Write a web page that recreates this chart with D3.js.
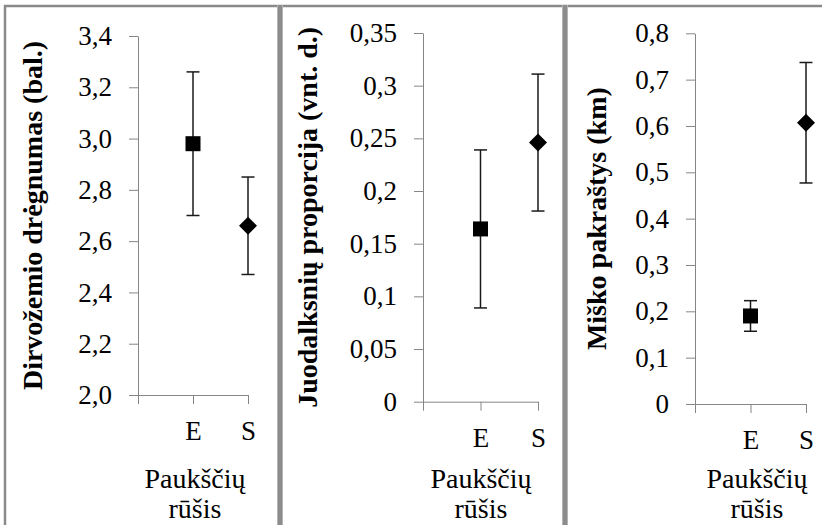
<!DOCTYPE html>
<html>
<head>
<meta charset="utf-8">
<script src="https://cdn.jsdelivr.net/npm/d3@7"></script>
</head>
<body style="margin:0">
<svg id="chart" width="822" height="525"></svg>
<script>
// Categories along each x axis (first slot left blank, as in the original workbook)
const categories = ["", "E", "S"];
const species = ["E", "S"];
const markerShapes = ["square", "diamond"];

// Soil moisture (points)
const soilMean = [2.98, 2.66];
const soilErr = [0.28, 0.19];
const soilTicks = [2.0, 2.2, 2.4, 2.6, 2.8, 3.0, 3.2, 3.4];
const soilTickLabels = ["2,0", "2,2", "2,4", "2,6", "2,8", "3,0", "3,2", "3,4"];

// Black alder proportion (units)
const alderMean = [0.164, 0.246];
const alderErr = [0.075, 0.065];
const alderTicks = [0, 0.05, 0.1, 0.15, 0.2, 0.25, 0.3, 0.35];
const alderTickLabels = ["0", "0,05", "0,1", "0,15", "0,2", "0,25", "0,3", "0,35"];

// Forest edge distance (km)
const edgeMean = [0.19, 0.607];
const edgeErr = [0.033, 0.13];
const edgeTicks = [0, 0.1, 0.2, 0.3, 0.4, 0.5, 0.6, 0.7, 0.8];
const edgeTickLabels = ["0", "0,1", "0,2", "0,3", "0,4", "0,5", "0,6", "0,7", "0,8"];

const yTitles = ["Dirvožemio drėgnumas (bal.)", "Juodalksnių proporcija (vnt. d.)", "Miško pakraštys (km)"];
const xTitleLines = ["Paukščių", "rūšis"];

const SERIF = "Liberation Serif";
const TICK_FONT = 27;
const TITLE_FONT = 28;
const AXIS_COLOR = "#868686";

const svg = d3.select("#chart").style("display", "block").style("font-family", `"${SERIF}"`);

// Panel layout
const panels = [
  { mean: soilMean, err: soilErr, ticks: soilTicks, labels: soilTickLabels, title: yTitles[0],
    ax: 138, xEnd: 248, yTop: 36, yBot: 395, titleX: 42, xTitleX: 195 },
  { mean: alderMean, err: alderErr, ticks: alderTicks, labels: alderTickLabels, title: yTitles[1],
    ax: 423, xEnd: 538, yTop: 33, yBot: 401.7, titleX: 317, xTitleX: 481 },
  { mean: edgeMean, err: edgeErr, ticks: edgeTicks, labels: edgeTickLabels, title: yTitles[2],
    ax: 695, xEnd: 806, yTop: 33.3, yBot: 404, titleX: 606, xTitleX: 757 }
];

// Outer frame and panel dividers
svg.append("rect").attr("x", 0).attr("y", 0).attr("width", 822).attr("height", 525).attr("fill", "#fff");
svg.append("line").attr("x1", 4).attr("x2", 822).attr("y1", 6).attr("y2", 6)
  .attr("stroke", "#8a8a8a").attr("stroke-width", 2.5);
svg.append("line").attr("x1", 5).attr("x2", 5).attr("y1", 5).attr("y2", 525)
  .attr("stroke", "#8a8a8a").attr("stroke-width", 2.5);
[280, 565].forEach(x => {
  svg.append("rect").attr("x", x - 3).attr("y", 5).attr("width", 6).attr("height", 520).attr("fill", "#b4b4b4");
  svg.append("rect").attr("x", x - 2).attr("y", 5).attr("width", 4).attr("height", 520).attr("fill", "#8c8c8c");
});

function styleText(sel, size, weight) {
  return sel.attr("font-family", SERIF)
    .style("font-family", `"${SERIF}"`)
    .style("font-size", `${size}px`)
    .attr("font-weight", weight || "normal")
    .attr("fill", "#000");
}

panels.forEach(p => {
  const domain = [p.ticks[0], p.ticks[p.ticks.length - 1]];
  const y = d3.scaleLinear().domain(domain).range([p.yBot, p.yTop]);
  const x = d3.scalePoint().domain(categories).range([p.ax, p.xEnd]).padding(0);
  const g = svg.append("g");

  // Y axis
  const yAxis = d3.axisLeft(y).tickValues(p.ticks)
    .tickFormat((d, i) => p.labels[i]).tickSize(9).tickPadding(17).tickSizeOuter(0);
  const gy = g.append("g").attr("transform", `translate(${p.ax},0)`).call(yAxis)
    .attr("font-family", SERIF).attr("font-size", TICK_FONT);
  gy.select(".domain").attr("stroke", AXIS_COLOR);
  gy.selectAll(".tick line").attr("stroke", AXIS_COLOR);
  styleText(gy.selectAll(".tick text"), TICK_FONT);

  // X axis
  const xAxis = d3.axisBottom(x).tickSize(9).tickPadding(17).tickSizeOuter(0);
  const gx = g.append("g").attr("transform", `translate(0,${p.yBot})`).call(xAxis)
    .attr("font-family", SERIF).attr("font-size", TICK_FONT);
  gx.select(".domain").attr("stroke", AXIS_COLOR);
  gx.selectAll(".tick line").attr("stroke", AXIS_COLOR);
  styleText(gx.selectAll(".tick text"), TICK_FONT);

  // Y axis title
  styleText(g.append("text")
    .attr("transform", `translate(${p.titleX},${(p.yTop + p.yBot) / 2}) rotate(-90)`)
    .attr("text-anchor", "middle"), TITLE_FONT, "bold")
    .text(p.title);

  // X axis title (two lines)
  styleText(g.append("text").attr("x", p.xTitleX).attr("y", 488).attr("text-anchor", "middle"), TITLE_FONT)
    .text(xTitleLines[0]);
  styleText(g.append("text").attr("x", p.xTitleX).attr("y", 518).attr("text-anchor", "middle"), TITLE_FONT)
    .text(xTitleLines[1]);

  // Error bars and markers
  species.forEach((s, i) => {
    const cx = x(s);
    const m = p.mean[i], e = p.err[i];
    const eb = g.append("g").attr("stroke", "#1a1a1a").attr("stroke-width", 1.5);
    eb.append("line").attr("x1", cx).attr("x2", cx).attr("y1", y(m + e)).attr("y2", y(m - e));
    [m + e, m - e].forEach(v => {
      eb.append("line").attr("x1", cx - 6.5).attr("x2", cx + 6.5).attr("y1", y(v)).attr("y2", y(v));
    });
    const cy = y(m);
    if (markerShapes[i] === "square") {
      g.append("rect").attr("x", cx - 7.5).attr("y", cy - 7.5).attr("width", 15).attr("height", 15).attr("fill", "#000");
    } else {
      const r = 9;
      g.append("path").attr("d", `M${cx},${cy - r}L${cx + r},${cy}L${cx},${cy + r}L${cx - r},${cy}Z`).attr("fill", "#000");
    }
  });
});
</script>
</body>
</html>
